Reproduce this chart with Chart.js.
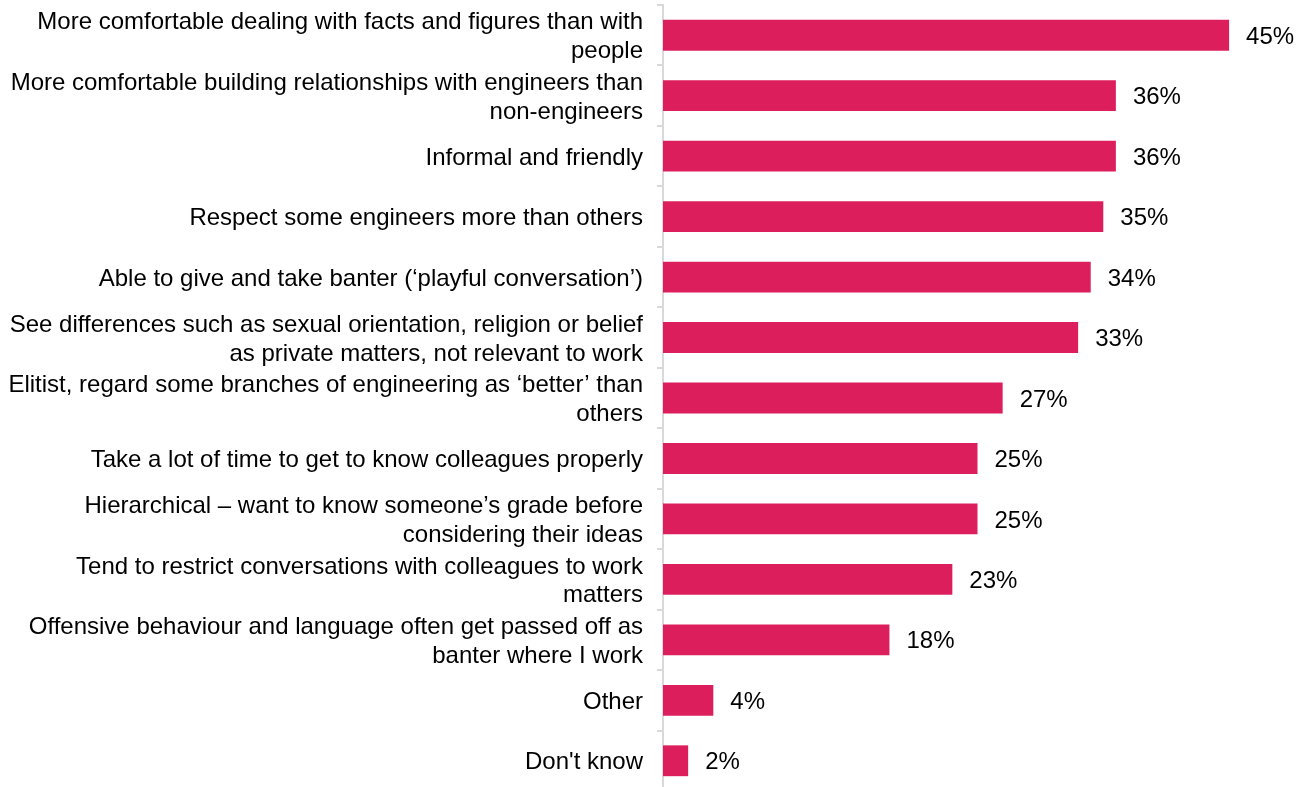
<!DOCTYPE html>
<html>
<head>
<meta charset="utf-8">
<script src="https://cdn.jsdelivr.net/npm/chart.js@4.4.1/dist/chart.umd.min.js"></script>
<style>
  html, body { margin: 0; padding: 0; background: #fff; overflow: hidden; }
  /* etwas höher als das Fenster, die letzte Kategorie läuft unten aus */
  #wrap { width: 1310px; height: 791px; }
</style>
</head>
<body>
<div id="wrap"><canvas id="chart"></canvas></div>
<script>
// Kategorien (mehrzeilige Labels als Arrays)
const categories = [
  ["More comfortable dealing with facts and figures than with", "people"],
  ["More comfortable building relationships with engineers than", "non-engineers"],
  "Informal and friendly",
  "Respect some engineers more than others",
  "Able to give and take banter (\u2018playful conversation\u2019)",
  ["See differences such as sexual orientation, religion or belief", "as private matters, not relevant to work"],
  ["Elitist, regard some branches of engineering as \u2018better\u2019 than", "others"],
  "Take a lot of time to get to know colleagues properly",
  ["Hierarchical \u2013 want to know someone\u2019s grade before", "considering their ideas"],
  ["Tend to restrict conversations with colleagues to work", "matters"],
  ["Offensive behaviour and language often get passed off as", "banter where I work"],
  "Other",
  "Don't know"
];

// Anteile in Prozent
const values = [45, 36, 36, 35, 34, 33, 27, 25, 25, 23, 18, 4, 2];

const barColor = "#DC1F5C";
const fontFamily = "'Liberation Sans', Arial, sans-serif";

// Prozentwerte rechts neben die Balken schreiben
const valueLabels = {
  id: "valueLabels",
  afterDatasetsDraw(chart) {
    const ctx = chart.ctx;
    const meta = chart.getDatasetMeta(0);
    ctx.save();
    ctx.font = "24px " + fontFamily;
    ctx.fillStyle = "#000";
    ctx.textAlign = "left";
    ctx.textBaseline = "middle";
    meta.data.forEach((bar, i) => {
      ctx.fillText(values[i] + "%", bar.x + 17, bar.y + 2);
    });
    ctx.restore();
  }
};

new Chart(document.getElementById("chart"), {
  type: "bar",
  data: {
    labels: categories,
    datasets: [{
      data: values,
      backgroundColor: barColor,
      borderWidth: 0,
      categoryPercentage: 1,
      barPercentage: 0.51
    }]
  },
  options: {
    indexAxis: "y",
    responsive: true,
    maintainAspectRatio: false,
    animation: false,
    layout: { padding: { top: 5, right: 18, bottom: 0, left: 0 } },
    plugins: {
      legend: { display: false },
      tooltip: { enabled: false }
    },
    scales: {
      x: {
        display: false,
        min: 0,
        max: 50
      },
      y: {
        // feste Breite, kein Zusatzabstand oben/unten
        afterFit: (scale) => {
          scale.width = 663;
          scale.paddingTop = 0;
          scale.paddingBottom = 0;
        },
        grid: {
          drawOnChartArea: false,
          drawTicks: true,
          tickLength: 6,
          color: "#d9d9d9",
          lineWidth: 2,
          offset: true
        },
        border: { display: true, color: "#d9d9d9", width: 2 },
        ticks: {
          autoSkip: false,
          padding: 14,
          labelOffset: 2,
          color: "#000",
          font: { family: fontFamily, size: 24, lineHeight: 1.2 }
        }
      }
    }
  },
  plugins: [valueLabels]
});
</script>
</body>
</html>
